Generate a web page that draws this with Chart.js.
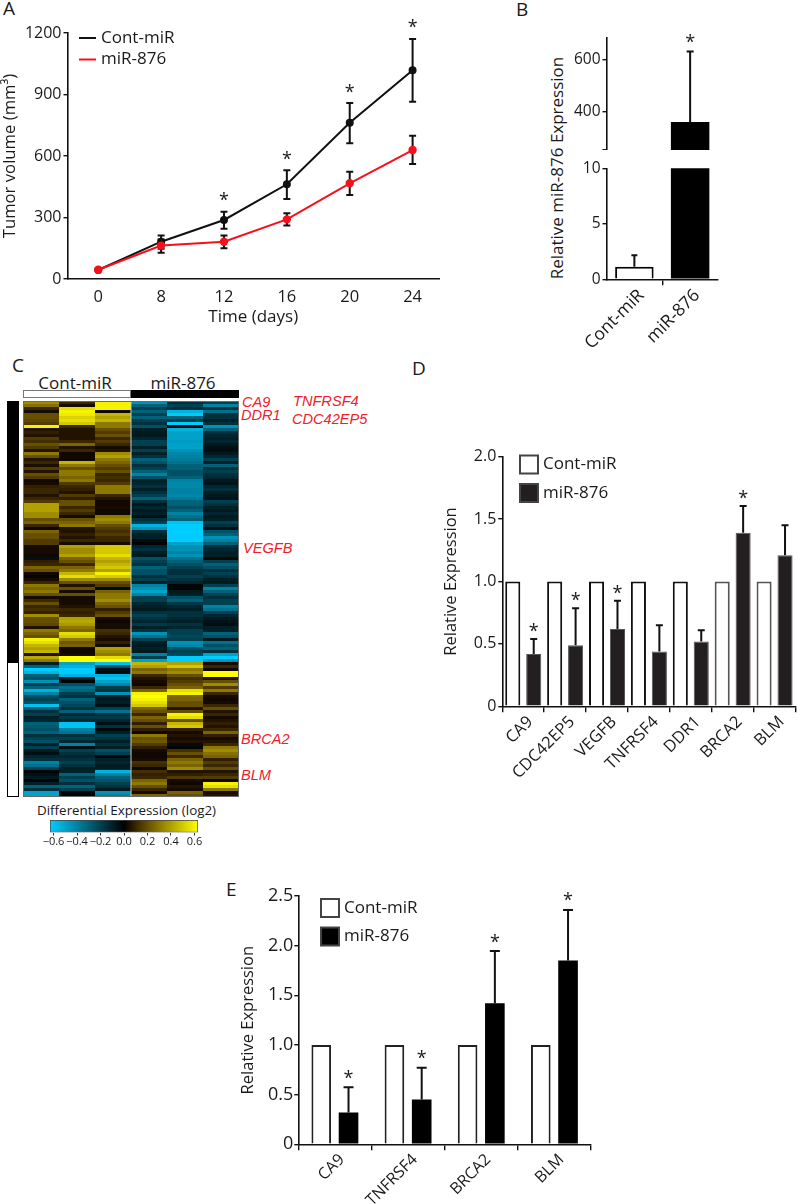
<!DOCTYPE html>
<html>
<head>
<meta charset="utf-8">
<title>miR-876 figure</title>
<script src="https://cdn.jsdelivr.net/npm/chart.js@4"></script>
<style>
    html, body { margin: 0; background: #fff; }
    body { position: relative; width: 797px; height: 1204px; overflow: hidden; font-family: "Open Sans", sans-serif; color: #1a1a1a; }
    canvas { position: absolute; }
    .txt { position: absolute; white-space: nowrap; transform: translateY(-50%); }
    .letter { font-size: 19px; }
    .gene { font: italic 14.6px "Liberation Sans", sans-serif; color: #f0202a; }
    .group { font-size: 17px; transform: translate(-50%, -50%); }
    .vert { font-size: 17px; transform: translate(-50%, -50%) rotate(-90deg); }
    .box { position: absolute; box-sizing: border-box; }
</style>
</head>
<body>
<div class="txt letter" style="left:3px;top:8px">A</div>
<div class="txt letter" style="left:516px;top:9px">B</div>
<div class="txt letter" style="left:12px;top:365px">C</div>
<div class="txt letter" style="left:412px;top:368px">D</div>
<div class="txt letter" style="left:226px;top:889px">E</div>

<canvas id="panelA"></canvas>

<div class="txt vert" style="left:556px;top:167.5px">Relative miR-876 Expression</div>
<canvas id="panelBTop"></canvas>
<canvas id="panelBLow"></canvas>

<div class="txt group" style="left:75px;top:382px">Cont-miR</div>
<div class="txt group" style="left:183px;top:382px">miR-876</div>
<div class="box" style="left:23px;top:390px;width:108px;height:8px;background:#fff;border:1px solid #777"></div>
<div class="box" style="left:131px;top:390px;width:108px;height:8px;background:#000"></div>
<div class="box" id="sideTop" style="left:7px;top:401px;width:12px;background:#000"></div>
<div class="box" id="sideLow" style="left:7px;width:12px;background:#fff;border:1px solid #000"></div>
<canvas id="panelC"></canvas>
<div class="txt gene" style="left:242px;top:402px">CA9</div>
<div class="txt gene" style="left:241px;top:415px">DDR1</div>
<div class="txt gene" style="left:293px;top:401px">TNFRSF4</div>
<div class="txt gene" style="left:292px;top:419px">CDC42EP5</div>
<div class="txt gene" style="left:243px;top:548px">VEGFB</div>
<div class="txt gene" style="left:241px;top:739px">BRCA2</div>
<div class="txt gene" style="left:241px;top:775px">BLM</div>
<div class="txt" style="left:37px;top:810px;font-size:13.4px">Differential Expression (log2)</div>
<canvas id="scaleC"></canvas>

<canvas id="panelD"></canvas>
<canvas id="panelE"></canvas>

<script>
// panel A
const days = ["0", "8", "12", "16", "20", "24"];
const contVolume = [44, 182, 288, 462, 762, 1018];
const contUp = [null, 30, 40, 68, 96, 153];
const contDown = [null, 35, 43, 72, 100, 153];
const mirVolume = [45, 163, 182, 291, 467, 629];
const mirUp = [null, 30, 30, 30, 56, 70];
const mirDown = [null, 35, 32, 30, 57, 68];
const volumeStars = [false, false, true, true, true, true];

// panel B, axis is broken so both halves use the same values
const groups = ["Cont-miR", "miR-876"];
const groupExpression = [1.13, 361];
const groupUp = [1.03, 270];

// panel C, one list per sample, top row first
const heatCont1 = [
    .35,.28,.1,.03,.2,.2,.18,.15,.6,.05,.08,.05,.15,.12,.2,.15,.05,.3,.2,.05,.1,.04,.15,.05,.2,.15,.02,.03,.08,.1,.1,.05,.1,.15,
    .4,.4,.4,.35,.35,.2,.25,.1,.02,.25,.2,.2,.15,.15,.03,.03,.03,.02,-.05,.08,.1,.25,.2,.02,.01,.03,.1,.3,.25,.3,.2,.03,.1,
    .2,.1,.12,.08,.35,.2,.2,.18,.05,.3,.25,.2,.6,.55,.45,.4,.45,.05,.42,.3,-.1,-.3,-.65,-.55,-.3,-.25,-.45,-.2,-.3,-.55,-.4,-.25,-.2,-.25,
    -.6,-.3,-.15,-.2,-.1,-.12,-.3,-.28,-.25,-.3,-.15,-.2,-.25,-.1,-.2,-.08,-.05,-.12,-.15,-.4,-.35,-.2,-.02,-.05,-.08,-.02,-.1,-.3,-.15,-.5,-.5
];
const heatCont2 = [
    .1,.03,.55,.6,.58,.52,.55,.5,.1,.05,.05,.05,.05,.1,.25,.05,.1,.02,.02,.02,.45,.3,.2,.3,.3,.25,.3,.15,.1,.08,.05,.15,.08,.2,
    .2,.1,.15,.1,.03,.2,.25,.3,.05,.05,.08,.05,.1,.03,.4,.35,.35,.4,.25,.2,.1,.25,.3,.45,.55,.35,.2,.05,.2,.03,.2,.03,.03,
    .03,.05,.1,.08,.1,.4,.42,.38,.3,.25,.55,.5,.3,.22,.25,.02,.02,.03,.65,.65,-.5,-.55,-.7,-.7,-.55,-.1,-.02,-.25,-.35,-.3,-.2,-.15,-.3,-.25,
    -.22,-.15,-.3,-.12,-.18,-.12,-.6,-.6,-.4,-.35,-.15,-.2,-.12,-.4,-.05,-.2,-.15,-.12,-.15,-.2,-.15,-.1,-.1,-.3,-.2,-.25,-.15,-.3,-.2,-.02,-.01
];
const heatCont3 = [
    .6,.6,.6,.02,.45,.4,.45,.3,.3,.2,.15,.2,.1,.15,.1,.03,.05,.35,.4,.3,.25,.2,.15,.2,.1,.12,.1,.15,.3,.3,.3,.1,.05,.02,
    .02,.03,.02,.02,.3,.35,.3,.2,.15,.12,.15,.1,.1,.03,.5,.5,.5,.55,.45,.4,.45,.5,.4,.6,.5,.35,.2,.15,-.03,.25,.3,.3,.35,
    .25,.2,.08,.15,.2,.03,.02,.03,.03,.12,.1,.05,.03,.08,.03,.4,.35,.3,.55,.65,-.6,-.25,-.05,-.03,-.55,-.6,-.5,-.4,-.2,-.15,-.45,-.1,-.08,-.1,
    -.05,-.2,-.35,-.15,-.18,-.12,-.05,-.15,-.03,-.1,-.2,-.15,-.1,-.15,-.1,-.25,-.2,-.02,-.1,-.12,-.08,-.1,-.55,-.4,-.3,-.25,-.2,-.15,-.08,-.45,-.4
];
const heatMir1 = [
    -.45,-.3,-.2,-.3,-.2,-.3,-.2,-.15,-.25,-.1,-.08,-.08,-.12,-.2,-.2,-.1,-.2,-.1,-.15,-.3,-.25,-.15,-.2,-.3,-.4,-.25,-.1,-.12,-.15,-.1,-.15,-.2,-.3,-.15,
    -.08,-.12,-.08,-.1,-.05,-.15,-.2,-.55,-.45,-.15,-.1,-.1,-.04,-.02,-.12,-.15,-.1,-.08,-.25,-.2,-.15,-.3,-.25,-.25,-.15,-.2,-.1,-.4,-.45,-.5,-.4,-.2,-.2,
    -.12,-.1,-.08,-.15,-.2,-.15,-.12,-.18,-.1,-.15,-.45,-.35,-.2,-.1,-.08,-.1,-.08,-.4,-.2,-.5,.45,.4,.25,.3,.1,.05,.03,.02,.1,.25,.6,.65,.6,.55,
    .5,.25,.2,.1,.25,.2,.08,.2,.08,.02,.3,.2,.22,.15,.08,.03,.02,.02,.03,.12,.1,.02,.12,.08,.1,.25,.3,.2,.1,.03,.25
];
const heatMir2 = [
    -.15,-.2,-.15,-.55,-.62,-.3,-.2,-.68,-.03,-.55,-.5,-.5,-.5,-.48,-.5,-.5,-.45,-.42,-.4,-.38,-.35,-.3,-.3,-.25,-.25,-.3,-.4,-.42,-.42,-.4,-.4,-.42,-.38,-.3,
    -.3,-.25,-.3,-.4,-.35,-.3,-.6,-.7,-.65,-.65,-.65,-.65,-.65,-.5,-.45,-.45,-.4,-.45,-.35,-.3,-.25,-.2,-.15,-.15,-.2,-.15,-.12,-.02,.01,-.08,-.1,-.25,-.3,
    -.18,-.12,-.1,-.15,-.15,-.12,-.1,-.15,-.12,-.2,-.2,-.22,-.2,-.45,-.42,-.25,-.2,-.22,-.7,-.7,.4,.5,.3,.35,.2,.12,.15,.2,.25,.55,.6,.25,.25,.2,
    .2,.05,.2,.6,.55,.2,.45,.5,.08,.03,.05,.03,.05,.02,-.02,.12,.2,.1,.25,.3,.25,.35,.05,.08,.15,.03,.02,.05,.03,.25,.2
];
const heatMir3 = [
    -.2,-.4,-.15,-.35,-.15,-.15,-.1,-.15,-.45,-.3,-.15,-.12,-.1,-.12,-.08,-.05,-.04,-.08,-.12,-.2,-.1,-.3,-.15,-.2,-.15,-.12,-.08,-.06,-.12,-.15,-.1,-.08,-.06,-.2,
    -.15,-.1,-.08,-.12,-.08,-.1,-.2,-.15,-.05,-.25,-.3,-.45,-.4,-.3,-.15,-.12,-.1,-.1,.02,-.2,-.3,-.25,-.15,-.2,-.15,-.1,-.08,-.2,-.4,-.3,-.2,-.15,-.2,
    -.2,-.4,-.35,-.2,-.12,-.08,-.06,-.04,-.1,-.1,-.3,-.25,-.08,-.35,-.25,-.3,-.15,-.5,-.7,-.45,.03,.1,.02,.65,.65,.05,.2,.35,.15,.3,.1,.03,.02,.03,
    .1,.2,.05,.1,.03,.05,.08,.05,.1,.25,.08,.03,.05,.1,.3,.35,.28,.25,.08,.15,.1,.2,.05,.1,.15,.02,.6,.55,.3,.03,.05
];
const heatSamples = ["Cont-miR 1", "Cont-miR 2", "Cont-miR 3", "miR-876 1", "miR-876 2", "miR-876 3"];
const clusterRows = [87, 45];
const scaleTicks = [-0.6, -0.4, -0.2, 0, 0.2, 0.4, 0.6];

// panel D
const genesD = ["CA9", "CDC42EP5", "VEGFB", "TNFRSF4", "DDR1", "BRCA2", "BLM"];
const contD = [1, 1, 1, 1, 1, 1, 1];
const mirD = [0.42, 0.49, 0.62, 0.44, 0.52, 1.39, 1.21];
const mirUpD = [0.12, 0.295, 0.225, 0.21, 0.09, 0.215, 0.24];
const starsD = [true, true, true, false, false, true, false];

// panel E
const genesE = ["CA9", "TNFRSF4", "BRCA2", "BLM"];
const contE = [1, 1, 1, 1];
const mirE = [0.32, 0.45, 1.42, 1.85];
const mirUpE = [0.255, 0.32, 0.525, 0.51];
const starsE = [true, true, true, true];

const FONT = '"Open Sans", sans-serif';
const INK = "#1a1a1a";

Chart.defaults.font.family = FONT;
Chart.defaults.color = INK;
Chart.defaults.animation = false;
Chart.defaults.responsive = false;
Chart.defaults.plugins.legend.display = false;
Chart.defaults.plugins.tooltip.enabled = false;

function place(id, left, top, width, height) {
    let canvas = document.getElementById(id);
    canvas.width = width;
    canvas.height = height;
    canvas.style.left = left + "px";
    canvas.style.top = top + "px";
    return canvas;
}

// error bars and asterisks, read from errUp / errDown / stars on each dataset
const errorMarks = {
    id: "errorMarks",
    beforeDatasetsDraw(chart) {
        let ctx = chart.ctx;
        let yScale = chart.scales.y;
        chart.data.datasets.forEach((ds, i) => {
            if (!ds.errUp) return;
            let meta = chart.getDatasetMeta(i);
            let cap = ds.errCap || 4;
            ctx.save();
            ctx.strokeStyle = "#111";
            ctx.lineWidth = 2;
            ds.errUp.forEach((up, j) => {
                if (up === null) return;
                let value = meta.controller.getParsed(j).y;
                let x = meta.data[j].x;
                let top = yScale.getPixelForValue(value + up);
                let down = ds.errDown ? ds.errDown[j] : 0;
                let bottom = yScale.getPixelForValue(value - down);
                ctx.beginPath();
                ctx.moveTo(x, top);
                ctx.lineTo(x, bottom);
                ctx.moveTo(x - cap, top);
                ctx.lineTo(x + cap, top);
                if (down) {
                    ctx.moveTo(x - cap, bottom);
                    ctx.lineTo(x + cap, bottom);
                }
                ctx.stroke();
            });
            ctx.restore();
        });
    },
    afterDatasetsDraw(chart) {
        let ctx = chart.ctx;
        let yScale = chart.scales.y;
        chart.data.datasets.forEach((ds, i) => {
            if (!ds.stars) return;
            let meta = chart.getDatasetMeta(i);
            ctx.save();
            ctx.font = "18px " + FONT;
            ctx.fillStyle = INK;
            ctx.textAlign = "center";
            ctx.textBaseline = "alphabetic";
            ds.stars.forEach((on, j) => {
                if (!on) return;
                let value = meta.controller.getParsed(j).y;
                let top = yScale.getPixelForValue(value + ds.errUp[j]);
                ctx.fillText("*", meta.data[j].x, top + 9.5 - ds.starGap);
            });
            ctx.restore();
        });
    },
};

// legend drawn at page coordinates, keeps the labels from the datasets
function makeKey(kind, pageX, pageY, rowGap) {
    return {
        id: "key",
        afterDraw(chart) {
            let ctx = chart.ctx;
            let x = pageX - chart.canvas.offsetLeft;
            let y = pageY - chart.canvas.offsetTop;
            ctx.save();
            ctx.font = "17px " + FONT;
            ctx.textBaseline = "middle";
            chart.data.datasets.forEach((ds, i) => {
                let rowY = y + i * rowGap;
                if (kind === "line") {
                    ctx.strokeStyle = ds.borderColor;
                    ctx.lineWidth = 2;
                    ctx.beginPath();
                    ctx.moveTo(x, rowY);
                    ctx.lineTo(x + 17, rowY);
                    ctx.stroke();
                    ctx.fillStyle = INK;
                    ctx.fillText(ds.label, x + 22, rowY);
                } else {
                    ctx.fillStyle = ds.backgroundColor;
                    ctx.strokeStyle = "#444";
                    ctx.lineWidth = 2;
                    ctx.fillRect(x, rowY - 9, 18, 18);
                    ctx.strokeRect(x, rowY - 9, 18, 18);
                    ctx.fillStyle = INK;
                    ctx.fillText(ds.label, x + 23, rowY);
                }
            });
            ctx.restore();
        },
    };
}

function yAxis(width, min, max, step, titleText, titleSize, tickSize) {
    return {
        min: min,
        max: max,
        afterFit(scale) {
            scale.width = width;
            scale.paddingTop = 0;
            scale.paddingBottom = 0;
        },
        border: { color: "#111", width: 1.6 },
        grid: { drawOnChartArea: false, tickLength: 4, color: "#111", lineWidth: 1.4 },
        ticks: { stepSize: step, padding: 2, font: { size: tickSize }, callback: (v) => String(v) },
        title: { display: !!titleText, text: titleText, padding: 0, font: { size: titleSize } },
    };
}

function xAxis(height, tickSize) {
    return {
        afterFit(scale) { scale.height = height; },
        border: { color: "#111", width: 1.6 },
        grid: { drawOnChartArea: false, offset: true, tickLength: 6, color: "#111", lineWidth: 1.4 },
        ticks: { minRotation: 45, maxRotation: 45, autoSkip: false, padding: 0, labelOffset: 7, font: { size: tickSize } },
    };
}

// A: tumor volume
const volumeY = yAxis(67.5, 0, 1200, 300, "Tumor volume (mm³)", 16.7, 16);
new Chart(place("panelA", 0, 0, 445, 335), {
    type: "line",
    data: {
        datasets: [
            {
                label: "Cont-miR",
                data: contVolume.map((v, i) => ({ x: i, y: v })),
                borderColor: "#111",
                backgroundColor: "#111",
                borderWidth: 2,
                pointRadius: 3,
                order: 1,
                errUp: contUp,
                errDown: contDown,
                errCap: 3.5,
                stars: volumeStars,
                starGap: 15,
            },
            {
                label: "miR-876",
                data: mirVolume.map((v, i) => ({ x: i, y: v })),
                borderColor: "#f5101c",
                backgroundColor: "#f5101c",
                borderWidth: 2,
                pointRadius: 3.2,
                order: 0,
                errUp: mirUp,
                errDown: mirDown,
                errCap: 3.5,
            },
        ],
    },
    options: {
        layout: { padding: { top: 33, right: 5 } },
        scales: {
            x: {
                type: "linear",
                min: -0.489,
                max: 5.42,
                afterFit(scale) { scale.height = 56; },
                afterBuildTicks(scale) { scale.ticks = days.map((d, i) => ({ value: i })); },
                border: { color: "#111", width: 1.6 },
                grid: { display: false },
                ticks: {
                    callback: (v) => days[v],
                    maxRotation: 0,
                    padding: 0,
                    font: { size: 16.5 },
                },
                title: { display: true, text: "Time (days)", padding: { top: 0, bottom: 8 }, font: { size: 17 } },
            },
            y: volumeY,
        },
    },
    plugins: [errorMarks, makeKey("line", 79, 38, 21.5)],
});

// B: broken axis, two charts on the same x positions
const brokenTicks = [254, 400, 600];
const topY = yAxis(66.5, 254, 683, 200, "", 16, 15.5);
topY.afterBuildTicks = (scale) => { scale.ticks = brokenTicks.map((v) => ({ value: v })); };
topY.ticks.callback = (v) => (v === brokenTicks[0] ? "" : v);
new Chart(place("panelBTop", 540, 20, 180, 130), {
    type: "bar",
    data: {
        labels: groups,
        datasets: [
            {
                label: "Expression",
                data: [null, groupExpression[1]],
                backgroundColor: "#000",
                barPercentage: 0.69,
                categoryPercentage: 1,
                errUp: [null, groupUp[1]],
                errCap: 3.5,
                stars: [false, true],
                starGap: 13,
            },
        ],
    },
    options: {
        layout: { padding: { top: 18, right: 2 } },
        scales: {
            x: { display: false },
            y: topY,
        },
    },
    plugins: [errorMarks],
});

const lowX = xAxis(80.7, 17.5);
lowX.grid.color = (ctx) => (ctx.index === 1 ? "#111" : "rgba(0,0,0,0)");
new Chart(place("panelBLow", 540, 160, 180, 200), {
    type: "bar",
    data: {
        labels: groups,
        datasets: [
            {
                label: "Expression",
                data: groupExpression,
                backgroundColor: ["#fff", "#000"],
                borderColor: "#000",
                borderWidth: [2, 0],
                barPercentage: 0.69,
                categoryPercentage: 1,
                errUp: [groupUp[0], null],
                errCap: 3,
            },
        ],
    },
    options: {
        layout: { padding: { top: 8.3, right: 2 } },
        scales: {
            x: lowX,
            y: yAxis(66.5, 0, 10, 5, "", 16, 15.5),
        },
    },
    plugins: [errorMarks],
});

// C: heatmap, one floating bar per cell
const heatColumns = [heatCont1, heatCont2, heatCont3, heatMir1, heatMir2, heatMir3];
const HEAT_LIMIT = 0.63;

// positive side runs through brown, not plain olive
function heatColor(v) {
    let t = Math.min(Math.abs(v) / HEAT_LIMIT, 1);
    if (v < 0) return `rgb(0,${Math.round(204 * t)},${Math.round(255 * t)})`;
    let red = 255 * Math.pow(t, 0.8);
    let green = 255 * Math.pow(t, 1.02);
    return `rgb(${Math.round(red)},${Math.round(green)},0)`;
}

const rowCount = heatCont1.length;
const rowHeight = 3;
const heatDatasets = heatCont1.map((_, r) => ({
    label: "row " + r,
    data: heatColumns.map(() => [r, r + 1]),
    backgroundColor: heatColumns.map((col) => heatColor(col[r])),
    borderWidth: 0,
    inflateAmount: 0,
    barPercentage: 1,
    categoryPercentage: 1,
    grouped: false,
}));

document.getElementById("sideTop").style.height = clusterRows[0] * rowHeight + "px";
document.getElementById("sideLow").style.top = 401 + clusterRows[0] * rowHeight + "px";
document.getElementById("sideLow").style.height = clusterRows[1] * rowHeight + "px";

const heatFrame = {
    id: "heatFrame",
    afterDraw(chart) {
        let { left, right, top, bottom } = chart.chartArea;
        let ctx = chart.ctx;
        let split = chart.scales.x.getPixelForValue(2.5);
        ctx.save();
        ctx.lineWidth = 1;
        ctx.beginPath();
        ctx.moveTo(split, top);
        ctx.lineTo(split, bottom);
        ctx.strokeStyle = "#c8c8c8";
        ctx.stroke();
        ctx.strokeStyle = "#6a6a6a";
        ctx.strokeRect(left + 0.5, top + 0.5, right - left - 1, bottom - top - 1);
        ctx.restore();
    },
};

new Chart(place("panelC", 23, 401, 216, rowCount * rowHeight), {
    type: "bar",
    data: { labels: heatSamples, datasets: heatDatasets },
    options: {
        scales: {
            x: { display: false },
            y: { display: false, reverse: true, min: 0, max: rowCount },
        },
    },
    plugins: [heatFrame],
});

// colour key of C, a single floating bar with the heat colours as gradient
function scaleGradient(ctx) {
    let area = ctx.chart.chartArea;
    if (!area) return "#000";
    let g = ctx.chart.ctx.createLinearGradient(area.left, 0, area.right, 0);
    g.addColorStop(0, heatColor(-HEAT_LIMIT));
    g.addColorStop(0.5, heatColor(0));
    g.addColorStop(0.6, heatColor(HEAT_LIMIT * 0.2));
    g.addColorStop(0.75, heatColor(HEAT_LIMIT * 0.5));
    g.addColorStop(1, heatColor(HEAT_LIMIT));
    return g;
}

new Chart(place("scaleC", 30, 820, 188, 34), {
    type: "bar",
    data: {
        labels: ["log2"],
        datasets: [
            {
                label: "log2",
                data: [[-HEAT_LIMIT, HEAT_LIMIT]],
                backgroundColor: scaleGradient,
                borderColor: "#444",
                borderWidth: 1,
                borderSkipped: false,
                barPercentage: 1,
                categoryPercentage: 1,
            },
        ],
    },
    options: {
        indexAxis: "y",
        layout: { padding: { left: 20, right: 20 } },
        scales: {
            y: { display: false },
            x: {
                min: -HEAT_LIMIT,
                max: HEAT_LIMIT,
                afterFit(scale) { scale.height = 21.5; },
                afterBuildTicks(scale) { scale.ticks = scaleTicks.map((v) => ({ value: v })); },
                border: { display: false },
                grid: { drawOnChartArea: false, tickLength: 3, color: "#333" },
                ticks: {
                    callback: (v) => v.toFixed(1).replace("-", "\u2212"),
                    padding: 0,
                    maxRotation: 0,
                    autoSkip: false,
                    font: { size: 11 },
                },
            },
        },
    },
});

// D and E: same two-bar layout, different sizes
function tickZero(v) {
    return v === 0 ? "0" : v.toFixed(1);
}

function expressionChart(id, box, genes, cont, mir, mirUp, stars, cfg) {
    let y = yAxis(box.yWidth, 0, cfg.yMax, 0.5, "Relative Expression", 16.5, cfg.tickSize);
    y.ticks.callback = tickZero;
    y.ticks.padding = cfg.tickPad;
    return new Chart(place(id, box.left, box.top, box.width, box.height), {
        type: "bar",
        data: {
            labels: genes,
            datasets: [
                {
                    label: "Cont-miR",
                    data: cont,
                    backgroundColor: "#fff",
                    borderColor: cfg.contBorder,
                    borderWidth: 2,
                    barPercentage: 0.72,
                    categoryPercentage: cfg.groupWidth,
                },
                {
                    label: "miR-876",
                    data: mir,
                    backgroundColor: cfg.mirFill,
                    borderColor: "#555",
                    borderWidth: cfg.mirBorder,
                    barPercentage: 0.72,
                    categoryPercentage: cfg.groupWidth,
                    errUp: mirUp,
                    errCap: cfg.errCap,
                    stars: stars,
                    starGap: cfg.starGap,
                },
            ],
        },
        options: {
            layout: { padding: { top: box.padTop, right: box.padRight } },
            scales: {
                x: xAxis(box.xHeight, cfg.labelSize),
                y: y,
            },
        },
        plugins: [errorMarks, makeKey("box", cfg.keyX, cfg.keyY, cfg.keyGap)],
    });
}

expressionChart(
    "panelD",
    { left: 441, top: 440, width: 356, height: 340, yWidth: 61.3, padTop: 16.7, padRight: 1.5, xHeight: 73.7 },
    genesD, contD, mirD, mirUpD, starsD,
    { yMax: 2, contBorder: ["#111", "#111", "#111", "#111", "#111", "#555", "#555"], groupWidth: 1, mirFill: "#231f20", mirBorder: 1, keyX: 520, keyY: 464.5, keyGap: 28.5, tickSize: 16, tickPad: 2, labelSize: 16.5, errCap: 3.5, starGap: 11.5 }
);

expressionChart(
    "panelE",
    { left: 238, top: 870, width: 360, height: 334, yWidth: 60.3, padTop: 26, padRight: 7, xHeight: 59.7 },
    genesE, contE, mirE, mirUpE, starsE,
    { yMax: 2.5, contBorder: "#222", groupWidth: 0.745, mirFill: "#000", mirBorder: 0, keyX: 321, keyY: 908, keyGap: 28.5, tickSize: 18, tickPad: 1, labelSize: 16, errCap: 5, starGap: 13 }
);
</script>
</body>
</html>
